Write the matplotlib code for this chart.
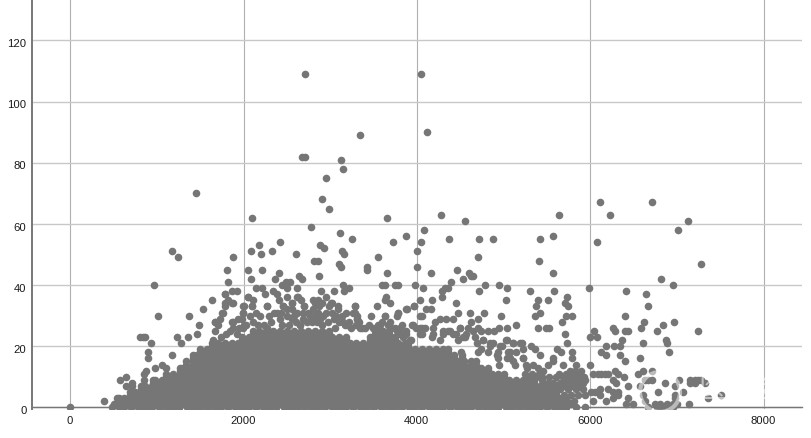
import matplotlib
matplotlib.use("Agg")
import matplotlib.pyplot as plt
from matplotlib.patches import Circle
from matplotlib.transforms import ScaledTranslation

plt.rcParams['font.family'] = ['Liberation Sans', 'Noto Sans CJK SC', 'DejaVu Sans']

x_ticks = [0, 2000, 4000, 6000, 8000]
y_ticks = [0, 20, 40, 60, 80, 100, 120]

# single dots: left half, then right half, then lower right
left_x = [0, 385, 535, 577, 646, 642, 715, 715, 846, 846, 873, 896, 896, 927, 808, 835, 858, 961, 1008, 1177, 1238,
          977, 1054, 1100, 1169, 1235, 1281, 1361, 1461, 1485, 1373, 1534, 1635, 1669, 1669, 1708, 1727, 1758, 1785,
          1815, 1881, 1785, 1819, 1804, 1877, 1861, 1927, 1869, 1938, 1996, 2004, 2054, 2081, 2088, 2173, 2196, 2208,
          2331, 2419, 2408, 2365, 2138, 2208, 2246, 2054, 2111, 2100, 2265, 2342, 2381, 2411, 2458, 2438, 2488, 2531,
          2504, 2504, 2619, 2554, 2611, 2661, 2696, 2581, 2619, 2650, 2600, 2638, 2677, 2777, 2807, 2861, 2869, 2877,
          2931, 2896, 2796, 2861, 2946, 3008, 3046, 3085, 3112, 3250, 3131, 3158, 3100, 3119, 3142, 3162, 3215, 3285,
          3304, 3419, 3419, 3546, 3719, 3658, 3592, 3631, 3750, 3785, 3638, 3542, 3473, 3631, 3688, 3631, 3765, 3785,
          3658, 2100, 2711, 2669, 2704, 3346, 3119, 3150, 2950, 2904, 2988, 1450]
left_y = [0, 2, 3, 9, 10, 7, 8, 7, 9, 11, 12, 18, 16, 21, 23, 23, 23, 40, 30, 51, 49,
          13, 14, 13, 17, 23, 21, 23, 24, 27, 30, 32, 35, 28, 25, 27, 29, 31, 33,
          35, 34, 37, 41, 45, 49, 38, 38, 28, 29, 31, 33, 45, 42, 51, 53, 50, 45,
          51, 54, 44, 42, 39, 39, 37, 36, 35, 33, 33, 38, 37, 35, 33, 40, 41, 41,
          39, 36, 39, 34, 36, 35, 33, 30, 31, 27, 50, 43, 42, 59, 48, 48, 43, 53,
          52, 38, 35, 35, 36, 34, 38, 33, 57, 55, 51, 50, 47, 46, 40, 38, 39, 33,
          30, 46, 45, 49, 54, 44, 40, 40, 40, 40, 36, 33, 30, 30, 34, 35, 30, 31,
          62, 62, 109, 82, 82, 89, 81, 78, 75, 68, 65, 70]

right_x = [3870, 4085, 4050, 4000, 4004, 4160, 4365, 4715, 4870, 4708, 4550, 4460, 4530, 4596, 4620, 4650, 4390, 4360,
           4320, 4290, 4292, 3980, 4070, 4035, 4177, 3965, 4446, 4473, 4415, 4338, 4262, 4204, 4165, 4108, 4060, 4038,
           3946, 3877, 4715, 4788, 4946, 5042, 5030, 4615, 4777, 4700, 4620, 4973, 5146, 5042, 4950, 4892, 4700, 4585,
           4500, 5308, 5396, 5370, 5358, 5423, 5396, 5492, 5519, 5423, 5569, 5408, 5569, 5577, 5515, 5735, 5711, 5742,
           5669, 5715, 5785, 5711, 5731, 6073, 5985, 6415, 6404, 6642, 6665, 6808, 6954, 7015, 7127, 7280, 7242, 6965,
           6835, 6765, 6619, 6588, 6404, 6431, 6265, 6288, 6035, 6000, 6077, 6369, 6338, 6273, 6184, 6608, 6869, 6884,
           6907, 6338, 6119, 6177, 6577, 6404, 5788, 5788, 5619, 5665, 5319, 5358, 5415, 5569, 5511, 5684, 4050, 4115,
           4277, 5635, 6108, 6223, 6708]
right_y = [56, 58, 54, 51, 46, 44, 55, 55, 55, 49, 61, 45, 42, 44, 43, 43, 41, 39,
           39, 38, 36, 40, 39, 35, 35, 33, 34, 31, 29, 29, 29, 28, 32, 32, 30, 30,
           27, 32, 38, 40, 40, 39, 35, 31, 31, 29, 28, 30, 27, 26, 26, 25, 26, 26,
           26, 38, 35, 33, 30, 31, 26, 26, 26, 55, 56, 48, 44, 38, 35, 36, 34, 33,
           28, 30, 30, 24, 21, 54, 39, 38, 30, 37, 33, 42, 40, 58, 61, 47, 25, 28,
           27, 25, 28, 26, 25, 25, 26, 25, 25, 23, 23, 22, 20, 20, 20, 21, 22, 21,
           18, 17, 18, 17, 16, 15, 18, 16, 19, 18, 20, 19, 17, 16, 14, 14, 109, 90,
           63, 63, 67, 63, 67]

band_x = [5030, 5108, 5185, 5223, 5050, 5069, 5146, 5108, 5223, 4954, 4935, 4935, 4946, 4838, 4760, 4665, 4742, 4838,
          4511, 4530, 4415, 4300, 4185, 4031, 4031, 4089, 4185, 4300, 4377, 4454, 4569, 4646, 4742, 4819, 3877, 3935,
          3800, 5262, 5338, 5396, 5454, 5569, 5761, 5819, 5838, 5896, 5800, 5935, 5915]
band_y = [22, 21, 21, 19, 18, 16, 18, 15, 16, 20, 18, 16, 14, 21, 22, 23, 19, 20,
          18, 23, 24, 24, 24, 24, 26, 26, 26, 25, 25, 24, 24, 25, 25, 25, 24, 22,
          24, 14, 14, 13, 12, 15, 12, 12, 14, 12, 10, 9, 8]

corner_x = [5992, 6031, 6088, 6127, 6165, 6204, 6280, 6319, 6384, 6431, 6261, 6300, 6319, 6261, 6204, 6108, 6050, 6011,
            6031, 6108, 6184, 6261, 6319, 6434, 6415, 6492, 6550, 6608, 6665, 6711, 6627, 6704, 6569, 6608, 6627, 6665,
            6762, 6838, 6915, 6954, 6781, 6865, 6973, 7023, 6973, 6973, 7069, 7138, 7146, 7204, 7242, 7280, 7146, 7204,
            7319, 7354, 7511, 6745, 6800, 6880, 6950, 7000]
corner_y = [14, 11, 11, 11, 11, 11, 12, 11, 10, 7, 9, 8, 5, 5, 6, 6, 5, 5,
            2, 4, 2, 3, 4, 3, 1, 1, 11, 12, 9, 12, 9, 9, 7, 4, 2, 0,
            0, 0, 0, 0, 5, 8, 7, 9, 4, 3, 5, 1, 9, 9, 9, 9, 8, 8,
            8, 3, 4, 1, 1, 1, 1, 1]

# ragged top of the mass
crest_x = [1669, 1746, 1784, 1784, 1861, 1873, 1977, 2072, 1996, 1996, 2053, 2092, 2188, 2265, 2288, 2381, 2419, 2496,
           2592, 2457, 2553, 2630, 2696, 2650, 2785, 2823, 2803, 2861, 2880, 2976, 3015, 3092, 3130, 3188, 3285, 3265,
           3304, 3362, 3054, 2169, 1880, 1996, 1842, 3285, 3304, 3169, 3342, 3535, 3573, 3688, 3612, 3631, 3785, 3880,
           3965, 3950, 3765, 3842, 3919, 4052, 4052, 4169, 4265, 4361, 4496, 4477, 4554, 4688, 4765, 4880, 4976, 5034,
           5109, 5205, 4706, 4822, 4918, 5034, 5130, 5225, 5072, 5263,
           2030, 2110, 2140, 2230, 2310, 2350, 2270, 2440, 2520, 2560, 2600, 2680, 2730, 2740, 2770, 2810, 2840, 2900,
           2920, 2950, 2985, 3040, 3070, 3100, 3150, 3220, 3240, 3290, 3330, 3400, 3450, 3490, 3550, 3600, 3660, 3700,
           3740, 3800, 3830, 3875, 3990, 2000, 1940, 1800, 1740, 1650, 1920, 2430, 2500, 2560, 2680, 3020, 3180, 2870,
           2900]
crest_y = [28, 31, 34, 37, 34, 28, 29, 30, 31, 33, 36, 33, 30, 33, 30, 31, 29, 30,
           31, 33, 34, 36, 33, 27, 28, 34, 32, 31, 29, 28, 34, 32, 30, 27, 33, 31,
           29, 26, 26, 27, 26, 26, 25, 31, 29, 27, 26, 26, 27, 28, 25, 30, 31, 32,
           33, 27, 25, 23, 22, 26, 24, 23, 22, 25, 26, 22, 23, 21, 22, 21, 20, 22,
           21, 21, 18, 18, 17, 16, 14, 16, 18, 13,
           27, 28, 31, 27, 28, 31, 26, 27, 27, 29, 28, 29, 28, 31, 30, 30, 28, 27,
           30, 31, 33, 29, 30, 28, 28, 28, 26, 27, 28, 26, 27, 26, 27, 28, 27, 26,
           26, 26, 27, 25, 26, 27, 26, 24, 23, 22, 24, 31, 32, 32, 31, 31, 31, 33,
           34]

# dense but holed stretch right of the mass
holed_x = [5240, 5325, 5405, 5640, 5722, 5803, 5884, 5281, 5366, 5438, 5524, 5603, 5682, 5766, 5842, 5921, 5443, 5702,
           5785, 5862, 5924, 5452, 5506, 5563, 5648, 5735, 5818, 5893, 5548, 5610, 5700, 5790, 5880, 5560, 5650, 5740,
           5830, 5915, 5600, 5690, 5770, 5860, 5940, 5725, 5805]
holed_y = [11, 11, 11, 11, 11, 11, 11, 10, 10, 10, 10, 10, 10, 10, 10, 10, 9, 9,
           9, 9, 9, 8, 8, 8, 8, 8, 8, 8, 7, 7, 7, 7, 7, 6, 6, 6,
           6, 6, 4, 4, 4, 4, 4, 2, 2]

# the solid mass of dots, one list of x per y level
mass_x_00 = [478, 590, 702, 805, 921, 1033, 1140, 1256, 1368, 1472, 1590, 1701, 1815, 1922, 2038, 2146, 2263, 2370, 2484,
             2596, 2702, 2818, 2931, 3040, 3152, 3266, 3372, 3488, 3595, 3710, 3822, 3930, 4044, 4156, 4268, 4376, 4490,
             4604, 4712, 4828, 4936, 5052, 5160, 5274, 5386, 5498, 5606, 5718, 5830, 5938]
mass_x_01 = [503, 584, 662, 741, 823, 899, 982, 1061, 1138, 1222, 1301, 1379, 1463, 1538, 1622, 1699, 1783, 1858, 1941,
             2022, 2098, 2183, 2259, 2342, 2418, 2503, 2577, 2662, 2738, 2823, 2898, 2981, 3062, 3139, 3222, 3298, 3383,
             3458, 3542, 3618, 3703, 3778, 3862, 3938, 4023, 4098, 4183, 4258, 4342, 4418, 4503, 4578, 4663, 4738, 4822,
             4898, 4983, 5058, 5143, 5218, 5303, 5378, 5462, 5538, 5623, 5698, 5772]
mass_x_03 = [560, 622, 701, 779, 862, 938, 1021, 1099, 1182, 1258, 1341, 1418, 1502, 1579, 1661, 1739, 1822, 1898, 1981,
             2058, 2142, 2219, 2301, 2378, 2462, 2538, 2622, 2699, 2781, 2858, 2942, 3019, 3101, 3178, 3262, 3339, 3421,
             3498, 3582, 3659, 3741, 3818, 3902, 3979, 4061, 4138, 4222, 4299, 4381, 4458, 4542, 4619, 4701, 4778, 4862,
             4939, 5021, 5098, 5182, 5259, 5341, 5418, 5502, 5579, 5661, 5715]
mass_x_05 = [690, 741, 822, 899, 983, 1059, 1142, 1221, 1302, 1378, 1463, 1539, 1622, 1701, 1781, 1859, 1943, 2018, 2102,
             2179, 2262, 2341, 2421, 2498, 2583, 2659, 2741, 2822, 2899, 2981, 3062, 3138, 3222, 3301, 3379, 3461, 3542,
             3619, 3701, 3782, 3858, 3942, 4022, 4099, 4181, 4262, 4339, 4421, 4502, 4578, 4662, 4742, 4819, 4901, 4982,
             5059, 5141, 5222, 5299, 5381, 5462, 5540, 5605]
mass_x_07 = [820, 862, 939, 1021, 1102, 1181, 1259, 1342, 1421, 1498, 1582, 1661, 1739, 1822, 1901, 1979, 2062, 2141,
             2219, 2302, 2381, 2459, 2542, 2621, 2699, 2782, 2861, 2939, 3022, 3101, 3179, 3262, 3341, 3419, 3502, 3581,
             3659, 3742, 3821, 3899, 3982, 4061, 4139, 4222, 4301, 4379, 4462, 4541, 4619, 4702, 4781, 4859, 4942, 5021,
             5099, 5182, 5261, 5339, 5422, 5500]
mass_x_09 = [950, 982, 1059, 1142, 1221, 1299, 1382, 1461, 1539, 1622, 1701, 1779, 1862, 1941, 2019, 2102, 2181, 2259,
             2342, 2421, 2499, 2582, 2661, 2739, 2822, 2901, 2979, 3062, 3141, 3219, 3302, 3381, 3459, 3542, 3621, 3699,
             3782, 3861, 3939, 4022, 4101, 4179, 4262, 4341, 4419, 4502, 4581, 4659, 4742, 4821, 4899, 4982, 5061, 5139,
             5222, 5301, 5350]
mass_x_11 = [1100, 1182, 1261, 1339, 1422, 1501, 1579, 1662, 1741, 1819, 1902, 1981, 2059, 2142, 2221, 2299, 2382, 2461,
             2539, 2622, 2701, 2779, 2862, 2941, 3019, 3102, 3181, 3259, 3342, 3421, 3499, 3582, 3661, 3739, 3822, 3901,
             3979, 4062, 4141, 4219, 4302, 4381, 4459, 4542, 4621, 4699, 4782, 4861, 4939, 5002]
mass_x_13 = [1260, 1302, 1381, 1459, 1542, 1621, 1699, 1782, 1861, 1939, 2022, 2101, 2179, 2262, 2341, 2419, 2502, 2581,
             2659, 2742, 2821, 2899, 2982, 3061, 3139, 3222, 3301, 3379, 3462, 3541, 3619, 3702, 3781, 3859, 3942, 4021,
             4099, 4182, 4261, 4339, 4422, 4501, 4579, 4662, 4741, 4820]
mass_x_15 = [1340, 1421, 1501, 1579, 1662, 1741, 1819, 1902, 1981, 2059, 2142, 2221, 2299, 2382, 2461, 2539, 2622, 2701,
             2779, 2862, 2941, 3019, 3102, 3181, 3259, 3342, 3421, 3499, 3582, 3661, 3739, 3822, 3901, 3979, 4062, 4141,
             4219, 4302, 4381, 4459, 4542, 4621, 4680]
mass_x_17 = [1410, 1462, 1541, 1619, 1702, 1781, 1859, 1942, 2021, 2099, 2182, 2261, 2339, 2422, 2501, 2579, 2662, 2741,
             2819, 2902, 2981, 3059, 3142, 3221, 3299, 3382, 3461, 3539, 3622, 3701, 3779, 3862, 3941, 4019, 4102, 4181,
             4259, 4342, 4421, 4520]
mass_x_19 = [1500, 1581, 1659, 1742, 1821, 1899, 1982, 2061, 2139, 2222, 2301, 2379, 2462, 2541, 2619, 2702, 2781, 2859,
             2942, 3021, 3099, 3182, 3261, 3339, 3422, 3501, 3579, 3662, 3741, 3819, 3902, 3981, 4059, 4142, 4221, 4299,
             4360]
mass_x_21 = [1640, 1699, 1782, 1861, 1939, 2022, 2101, 2179, 2262, 2341, 2419, 2502, 2581, 2659, 2742, 2821, 2899, 2982,
             3061, 3139, 3222, 3301, 3379, 3462, 3541, 3619, 3702, 3781, 3859, 3900]
mass_x_23 = [1980, 2062, 2141, 2219, 2302, 2381, 2459, 2542, 2621, 2699, 2782, 2861, 2939, 3022, 3101, 3179, 3462, 3541,
             3619, 3702, 3750]
mass_x_25 = [2102, 2181, 2259, 2342, 2421, 2499, 2582, 2661, 2739, 2822, 2901, 2979, 3520, 3601, 3679]
mass_levels = [0, 1, 2, 3, 4, 5, 6, 7, 8, 9, 10, 11, 12, 13, 14, 15, 16, 17, 18, 19, 20, 21, 22, 23, 24, 25]
mass_rows = [mass_x_00, mass_x_01, mass_x_03, mass_x_03, mass_x_05, mass_x_05, mass_x_07, mass_x_07, mass_x_09,
             mass_x_09, mass_x_11, mass_x_11, mass_x_13, mass_x_13, mass_x_15, mass_x_15, mass_x_17, mass_x_17,
             mass_x_19, mass_x_19, mass_x_21, mass_x_21, mass_x_23, mass_x_23, mass_x_25, mass_x_25]

all_x = left_x + right_x + band_x + corner_x + crest_x + holed_x
all_y = left_y + right_y + band_y + corner_y + crest_y + holed_y
for i, level in enumerate(mass_levels):
    all_x = all_x + mass_rows[i]
    all_y = all_y + [level] * len(mass_rows[i])
    # the next row up sits half a step over, so it closes the gaps at this level
    if i + 2 < len(mass_rows):
        all_x = all_x + mass_rows[i + 2]
        all_y = all_y + [level] * len(mass_rows[i + 2])

W, H = 811, 439
fig = plt.figure(figsize=(W / 100, H / 100), dpi=100)
ax = fig.add_axes([32 / W, 1 - 410 / H, 770 / W, 409 / H])

ax.scatter(all_x, all_y, s=30, color='#767676', linewidths=0, zorder=3)

ax.set_xlim(-442, 8440)
ax.set_ylim(-0.55, 133.2)
ax.set_xticks(x_ticks)
ax.set_yticks(y_ticks)
ax.set_axisbelow(True)
ax.grid(True, axis='y', color='#c8c8c8', linewidth=1.0)
ax.grid(True, axis='x', color='#b0b0b0', linewidth=0.8)
ax.get_xgridlines()[-1].set_color('#c8c8c8')
ax.get_xgridlines()[-1].set_linewidth(1.0)
ax.tick_params(length=0, labelsize=8.1, labelcolor='#1a1a1a', pad=4)
for label in ax.get_yticklabels():
    label.set_transform(label.get_transform() + ScaledTranslation(0, -1.3 / 72, fig.dpi_scale_trans))

for side in ['top', 'right']:
    ax.spines[side].set_visible(False)
ax.spines['left'].set_color('#777777')
ax.spines['left'].set_linewidth(1.4)
ax.spines['bottom'].set_position(('data', 0))
ax.spines['bottom'].set_color('#777777')
ax.spines['bottom'].set_linewidth(1.0)
ax.xaxis.set_tick_params(labelbottom=False)
for tick in x_ticks:
    ax.annotate(str(tick), (tick, 0), xytext=(-0.3, -8.8), textcoords='offset points', ha='center', va='center',
                fontsize=8.1, color='#1a1a1a', annotation_clip=False)

# faint site mark in the lower right
fig.text(698 / W, 1 - 391 / H, '医咖会', fontsize=20, color='white', alpha=0.55, va='center', ha='left', zorder=5)
fig.add_artist(Circle((6.6, 0.46), 0.2, transform=fig.dpi_scale_trans, fill=False, edgecolor='white',
                      linewidth=3, alpha=0.5, zorder=5))

fig.savefig('out.png', dpi=100)
